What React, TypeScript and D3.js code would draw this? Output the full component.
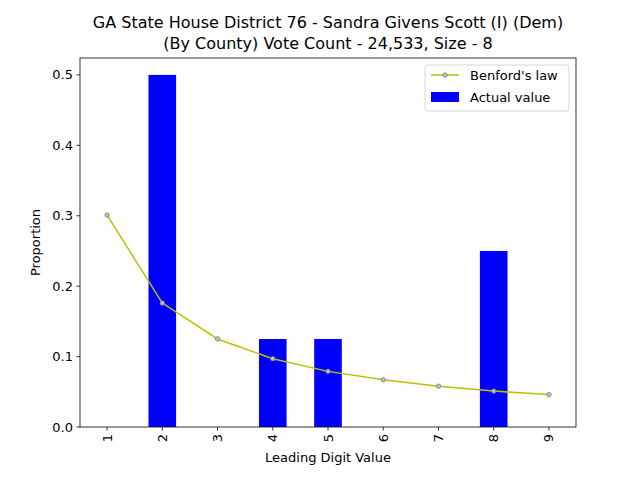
import React from 'react';
import * as d3 from 'd3';

const digits = [1, 2, 3, 4, 5, 6, 7, 8, 9];
const benford = [0.301, 0.176, 0.125, 0.097, 0.079, 0.067, 0.058, 0.051, 0.046];
const actual = [0, 0.5, 0, 0.125, 0.125, 0, 0, 0.25, 0];
const yTicks = [0, 0.1, 0.2, 0.3, 0.4, 0.5];

const W = 640, H = 480;
const m = { left: 80, right: 576, top: 58, bottom: 427 };
const font = 'DejaVu Sans, sans-serif';

export default function App() {
  const x = d3.scaleLinear().domain([0.51, 9.49]).range([m.left, m.right]);
  const y = d3.scaleLinear().domain([0, 0.524]).range([m.bottom, m.top]);
  const bw = x(1.5) - x(1);
  const line = d3.line<number>().x((_, i) => x(digits[i])).y(d => y(d));

  return (
    <svg width={W} height={H} style={{ position: 'absolute', left: 0, top: 0 }} fontFamily={font}>
      <rect width={W} height={H} fill="white" />
      <text x={328} y={28} textAnchor="middle" fontSize={16}>GA State House District 76 - Sandra Givens Scott (I) (Dem)</text>
      <text x={328} y={49} textAnchor="middle" fontSize={16}>(By County) Vote Count - 24,533, Size - 8</text>
      {actual.map((v, i) => (
        <rect key={i} x={x(digits[i]) - bw / 2} width={bw} y={y(v)} height={y(0) - y(v)} fill="blue" />
      ))}
      <path d={line(benford) || ''} fill="none" stroke="#bfbf00" strokeWidth={1.5} />
      {benford.map((v, i) => (
        <circle key={i} cx={x(digits[i])} cy={y(v)} r={2.2} fill="#bfbfbf" stroke="#808080" strokeWidth={0.8} />
      ))}
      <rect x={m.left} y={m.top} width={m.right - m.left} height={m.bottom - m.top} fill="none" stroke="black" strokeWidth={0.8} />
      {yTicks.map(t => (
        <g key={t}>
          <line x1={m.left - 3.5} x2={m.left} y1={y(t)} y2={y(t)} stroke="black" strokeWidth={0.8} />
          <text x={m.left - 7} y={y(t)} dy="0.35em" textAnchor="end" fontSize={13}>{t.toFixed(1)}</text>
        </g>
      ))}
      {digits.map(d => (
        <g key={d}>
          <line x1={x(d)} x2={x(d)} y1={m.bottom} y2={m.bottom + 3.5} stroke="black" strokeWidth={0.8} />
          <text transform={`translate(${x(d)},${m.bottom + 7}) rotate(-90)`} dy="0.35em" textAnchor="end" fontSize={13}>{d}</text>
        </g>
      ))}
      <text x={(m.left + m.right) / 2} y={462} textAnchor="middle" fontSize={13}>Leading Digit Value</text>
      <text transform={`translate(40,${(m.top + m.bottom) / 2}) rotate(-90)`} textAnchor="middle" fontSize={13}>Proportion</text>
      <g>
        <rect x={425} y={65} width={144} height={46} rx={3} fill="white" stroke="#cccccc" strokeWidth={0.8} />
        <line x1={431} x2={459} y1={75} y2={75} stroke="#bfbf00" strokeWidth={1.5} />
        <circle cx={445} cy={75} r={2.2} fill="#bfbfbf" stroke="#808080" strokeWidth={0.8} />
        <text x={470} y={75} dy="0.35em" fontSize={13}>Benford's law</text>
        <rect x={431} y={92} width={28} height={10} fill="blue" />
        <text x={470} y={97} dy="0.35em" fontSize={13}>Actual value</text>
      </g>
    </svg>
  );
}
